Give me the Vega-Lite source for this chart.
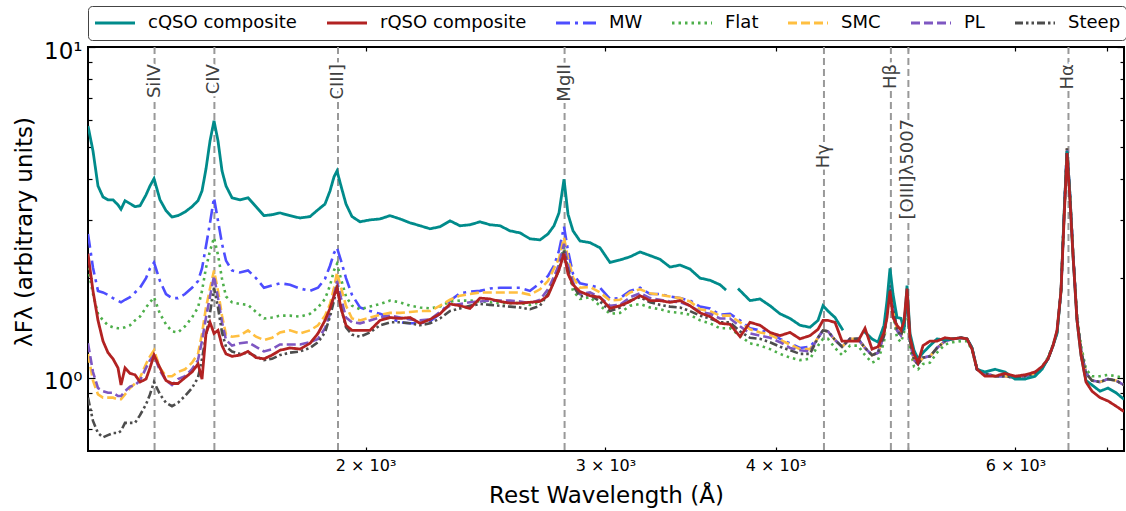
{
"$schema":"https://vega.github.io/schema/vega-lite/v6.json",
"width":1036,"height":404,
"autosize":{"type":"none"},
"padding":{"left":88,"top":47,"right":2,"bottom":60},
"config":{
 "font":"DejaVu Sans",
 "view":{"stroke":"black","strokeWidth":2},
 "axis":{"grid":false,"domain":false,"tickColor":"black","tickWidth":1.2,"labelFont":"DejaVu Sans","titleFont":"DejaVu Sans","labelColor":"black","titleColor":"black","titleFontWeight":"normal","labelFlush":false,"labelOverlap":false,"labelBound":false},
 "legend":{"symbolType":"stroke","symbolSize":1600,"symbolStrokeWidth":3,"labelFontSize":18,"labelFont":"DejaVu Sans","labelColor":"black","labelOffset":11.5,"columnPadding":28,"rowPadding":0,"padding":5.5,"clipHeight":23,"fillColor":"white","strokeColor":"#444444","cornerRadius":4,"labelLimit":0}
},
"datasets":{
"lines":[{"lab":"SiIV","w":1400,"ty":8.88},{"lab":"CIV","w":1549,"ty":8.88},{"lab":"CIII]","w":1909,"ty":8.88},{"lab":"MgII","w":2800,"ty":8.88},{"lab":"Hγ","w":4341,"ty":5.09},{"lab":"Hβ","w":4861,"ty":8.88},{"lab":"[OIII]λ5007","w":5007,"ty":6.06},{"lab":"Hα","w":6563,"ty":8.88}],
"comp":[
{"s":"cQSO composite","g":"1","w":1251.0,"f":5.77},{"s":"cQSO composite","g":"1","w":1261.6,"f":4.85},{"s":"cQSO composite","g":"1","w":1272.3,"f":3.80},{"s":"cQSO composite","g":"1","w":1283.1,"f":3.52},{"s":"cQSO composite","g":"1","w":1294.0,"f":3.45},{"s":"cQSO composite","g":"1","w":1305.0,"f":3.45},{"s":"cQSO composite","g":"1","w":1316.1,"f":3.33},{"s":"cQSO composite","g":"1","w":1322.8,"f":3.23},{"s":"cQSO composite","g":"1","w":1331.8,"f":3.43},{"s":"cQSO composite","g":"1","w":1343.1,"f":3.36},{"s":"cQSO composite","g":"1","w":1354.5,"f":3.29},{"s":"cQSO composite","g":"1","w":1366.0,"f":3.31},{"s":"cQSO composite","g":"1","w":1379.9,"f":3.57},{"s":"cQSO composite","g":"1","w":1389.2,"f":3.80},{"s":"cQSO composite","g":"1","w":1398.7,"f":4.00},{"s":"cQSO composite","g":"1","w":1412.9,"f":3.45},{"s":"cQSO composite","g":"1","w":1427.3,"f":3.20},{"s":"cQSO composite","g":"1","w":1441.9,"f":3.06},{"s":"cQSO composite","g":"1","w":1456.6,"f":3.09},{"s":"cQSO composite","g":"1","w":1473.9,"f":3.17},{"s":"cQSO composite","g":"1","w":1491.5,"f":3.29},{"s":"cQSO composite","g":"1","w":1506.7,"f":3.43},{"s":"cQSO composite","g":"1","w":1516.9,"f":3.67},{"s":"cQSO composite","g":"1","w":1527.2,"f":4.28},{"s":"cQSO composite","g":"1","w":1537.6,"f":5.20},{"s":"cQSO composite","g":"1","w":1548.0,"f":5.98},{"s":"cQSO composite","g":"1","w":1558.5,"f":5.20},{"s":"cQSO composite","g":"1","w":1569.1,"f":4.22},{"s":"cQSO composite","g":"1","w":1579.7,"f":3.80},{"s":"cQSO composite","g":"1","w":1595.8,"f":3.50},{"s":"cQSO composite","g":"1","w":1617.5,"f":3.45},{"s":"cQSO composite","g":"1","w":1639.6,"f":3.50},{"s":"cQSO composite","g":"1","w":1661.9,"f":3.29},{"s":"cQSO composite","g":"1","w":1684.5,"f":3.09},{"s":"cQSO composite","g":"1","w":1707.5,"f":3.11},{"s":"cQSO composite","g":"1","w":1730.7,"f":3.15},{"s":"cQSO composite","g":"1","w":1760.2,"f":3.09},{"s":"cQSO composite","g":"1","w":1790.2,"f":3.04},{"s":"cQSO composite","g":"1","w":1820.8,"f":3.07},{"s":"cQSO composite","g":"1","w":1845.5,"f":3.22},{"s":"cQSO composite","g":"1","w":1867.5,"f":3.35},{"s":"cQSO composite","g":"1","w":1883.4,"f":3.67},{"s":"cQSO composite","g":"1","w":1896.2,"f":4.05},{"s":"cQSO composite","g":"1","w":1905.8,"f":4.22},{"s":"cQSO composite","g":"1","w":1918.7,"f":3.80},{"s":"cQSO composite","g":"1","w":1935.0,"f":3.35},{"s":"cQSO composite","g":"1","w":1954.7,"f":3.07},{"s":"cQSO composite","g":"1","w":1981.4,"f":2.96},{"s":"cQSO composite","g":"1","w":2015.1,"f":3.00},{"s":"cQSO composite","g":"1","w":2049.5,"f":3.02},{"s":"cQSO composite","g":"1","w":2084.4,"f":3.09},{"s":"cQSO composite","g":"1","w":2120.0,"f":3.02},{"s":"cQSO composite","g":"1","w":2156.1,"f":2.94},{"s":"cQSO composite","g":"1","w":2192.9,"f":2.88},{"s":"cQSO composite","g":"1","w":2230.3,"f":2.82},{"s":"cQSO composite","g":"1","w":2268.3,"f":2.86},{"s":"cQSO composite","g":"1","w":2307.0,"f":2.98},{"s":"cQSO composite","g":"1","w":2346.3,"f":2.88},{"s":"cQSO composite","g":"1","w":2386.3,"f":2.90},{"s":"cQSO composite","g":"1","w":2427.0,"f":2.96},{"s":"cQSO composite","g":"1","w":2468.4,"f":2.90},{"s":"cQSO composite","g":"1","w":2510.4,"f":2.88},{"s":"cQSO composite","g":"1","w":2553.2,"f":2.78},{"s":"cQSO composite","g":"1","w":2596.8,"f":2.74},{"s":"cQSO composite","g":"1","w":2641.0,"f":2.63},{"s":"cQSO composite","g":"1","w":2686.1,"f":2.61},{"s":"cQSO composite","g":"1","w":2722.6,"f":2.72},{"s":"cQSO composite","g":"1","w":2750.4,"f":2.88},{"s":"cQSO composite","g":"1","w":2773.7,"f":3.15},{"s":"cQSO composite","g":"1","w":2797.3,"f":3.98},{"s":"cQSO composite","g":"1","w":2816.3,"f":3.12},{"s":"cQSO composite","g":"1","w":2840.2,"f":2.78},{"s":"cQSO composite","g":"1","w":2874.0,"f":2.59},{"s":"cQSO composite","g":"1","w":2923.0,"f":2.56},{"s":"cQSO composite","g":"1","w":2972.8,"f":2.47},{"s":"cQSO composite","g":"1","w":3023.5,"f":2.23},{"s":"cQSO composite","g":"1","w":3075.1,"f":2.27},{"s":"cQSO composite","g":"1","w":3127.5,"f":2.32},{"s":"cQSO composite","g":"1","w":3180.8,"f":2.40},{"s":"cQSO composite","g":"1","w":3235.0,"f":2.34},{"s":"cQSO composite","g":"1","w":3290.2,"f":2.28},{"s":"cQSO composite","g":"1","w":3346.3,"f":2.16},{"s":"cQSO composite","g":"1","w":3403.3,"f":2.19},{"s":"cQSO composite","g":"1","w":3461.4,"f":2.13},{"s":"cQSO composite","g":"1","w":3520.4,"f":2.00},{"s":"cQSO composite","g":"1","w":3580.4,"f":1.97},{"s":"cQSO composite","g":"1","w":3641.4,"f":1.91},{"s":"cQSO composite","g":"1","w":3678.7,"f":1.84},
{"s":"cQSO composite","g":"2","w":3754.0,"f":1.86},{"s":"cQSO composite","g":"2","w":3830.9,"f":1.71},{"s":"cQSO composite","g":"2","w":3896.2,"f":1.73},{"s":"cQSO composite","g":"2","w":3962.6,"f":1.65},{"s":"cQSO composite","g":"2","w":4030.2,"f":1.56},{"s":"cQSO composite","g":"2","w":4098.9,"f":1.51},{"s":"cQSO composite","g":"2","w":4168.8,"f":1.44},{"s":"cQSO composite","g":"2","w":4239.8,"f":1.42},{"s":"cQSO composite","g":"2","w":4297.6,"f":1.49},{"s":"cQSO composite","g":"2","w":4334.0,"f":1.65},{"s":"cQSO composite","g":"2","w":4370.8,"f":1.59},{"s":"cQSO composite","g":"2","w":4422.9,"f":1.52},{"s":"cQSO composite","g":"2","w":4483.2,"f":1.39},
{"s":"cQSO composite","g":"3","w":4637.6,"f":1.39},{"s":"cQSO composite","g":"3","w":4708.4,"f":1.31},{"s":"cQSO composite","g":"3","w":4756.4,"f":1.28},{"s":"cQSO composite","g":"3","w":4804.9,"f":1.44},{"s":"cQSO composite","g":"3","w":4829.3,"f":1.71},{"s":"cQSO composite","g":"3","w":4853.8,"f":2.14},{"s":"cQSO composite","g":"3","w":4878.5,"f":1.79},{"s":"cQSO composite","g":"3","w":4911.6,"f":1.52},{"s":"cQSO composite","g":"3","w":4945.0,"f":1.51},{"s":"cQSO composite","g":"3","w":4970.1,"f":1.39},{"s":"cQSO composite","g":"3","w":4995.4,"f":1.90},{"s":"cQSO composite","g":"3","w":5020.8,"f":1.36},{"s":"cQSO composite","g":"3","w":5054.8,"f":1.21},{"s":"cQSO composite","g":"3","w":5089.1,"f":1.14},{"s":"cQSO composite","g":"3","w":5132.3,"f":1.19},{"s":"cQSO composite","g":"3","w":5193.4,"f":1.25},{"s":"cQSO composite","g":"3","w":5255.3,"f":1.31},{"s":"cQSO composite","g":"3","w":5326.8,"f":1.30},{"s":"cQSO composite","g":"3","w":5399.3,"f":1.31},{"s":"cQSO composite","g":"3","w":5472.9,"f":1.32},{"s":"cQSO composite","g":"3","w":5528.7,"f":1.31},{"s":"cQSO composite","g":"3","w":5575.6,"f":1.23},{"s":"cQSO composite","g":"3","w":5622.9,"f":1.06},{"s":"cQSO composite","g":"3","w":5699.5,"f":1.04},{"s":"cQSO composite","g":"3","w":5796.7,"f":1.06},{"s":"cQSO composite","g":"3","w":5895.5,"f":1.04},{"s":"cQSO composite","g":"3","w":5996.0,"f":0.99},{"s":"cQSO composite","g":"3","w":6098.2,"f":0.99},{"s":"cQSO composite","g":"3","w":6202.2,"f":1.01},{"s":"cQSO composite","g":"3","w":6276.0,"f":1.06},{"s":"cQSO composite","g":"3","w":6340.0,"f":1.14},{"s":"cQSO composite","g":"3","w":6393.8,"f":1.25},{"s":"cQSO composite","g":"3","w":6437.2,"f":1.36},{"s":"cQSO composite","g":"3","w":6480.9,"f":1.83},{"s":"cQSO composite","g":"3","w":6513.8,"f":3.09},{"s":"cQSO composite","g":"3","w":6546.9,"f":4.85},{"s":"cQSO composite","g":"3","w":6580.3,"f":3.55},{"s":"cQSO composite","g":"3","w":6613.7,"f":2.34},{"s":"cQSO composite","g":"3","w":6658.6,"f":1.49},{"s":"cQSO composite","g":"3","w":6703.8,"f":1.17},{"s":"cQSO composite","g":"3","w":6760.7,"f":0.98},{"s":"cQSO composite","g":"3","w":6829.6,"f":0.95},{"s":"cQSO composite","g":"3","w":6922.6,"f":0.91},{"s":"cQSO composite","g":"3","w":7016.9,"f":0.93},{"s":"cQSO composite","g":"3","w":7112.4,"f":0.90},{"s":"cQSO composite","g":"3","w":7209.3,"f":0.86},
{"s":"rQSO composite","g":"1","w":1251.0,"f":2.37},{"s":"rQSO composite","g":"1","w":1261.6,"f":1.83},{"s":"rQSO composite","g":"1","w":1272.3,"f":1.49},{"s":"rQSO composite","g":"1","w":1283.1,"f":1.29},{"s":"rQSO composite","g":"1","w":1294.0,"f":1.19},{"s":"rQSO composite","g":"1","w":1305.0,"f":1.14},{"s":"rQSO composite","g":"1","w":1316.1,"f":1.07},{"s":"rQSO composite","g":"1","w":1322.8,"f":0.95},{"s":"rQSO composite","g":"1","w":1331.8,"f":1.07},{"s":"rQSO composite","g":"1","w":1343.1,"f":1.03},{"s":"rQSO composite","g":"1","w":1354.5,"f":1.02},{"s":"rQSO composite","g":"1","w":1366.0,"f":0.97},{"s":"rQSO composite","g":"1","w":1379.9,"f":0.99},{"s":"rQSO composite","g":"1","w":1389.2,"f":1.07},{"s":"rQSO composite","g":"1","w":1398.7,"f":1.17},{"s":"rQSO composite","g":"1","w":1412.9,"f":1.07},{"s":"rQSO composite","g":"1","w":1427.3,"f":0.98},{"s":"rQSO composite","g":"1","w":1441.9,"f":0.96},{"s":"rQSO composite","g":"1","w":1456.6,"f":0.96},{"s":"rQSO composite","g":"1","w":1473.9,"f":1.00},{"s":"rQSO composite","g":"1","w":1491.5,"f":1.04},{"s":"rQSO composite","g":"1","w":1506.7,"f":1.10},{"s":"rQSO composite","g":"1","w":1516.9,"f":0.99},{"s":"rQSO composite","g":"1","w":1527.2,"f":1.36},{"s":"rQSO composite","g":"1","w":1537.6,"f":1.47},{"s":"rQSO composite","g":"1","w":1548.0,"f":1.36},{"s":"rQSO composite","g":"1","w":1558.5,"f":1.39},{"s":"rQSO composite","g":"1","w":1569.1,"f":1.25},{"s":"rQSO composite","g":"1","w":1579.7,"f":1.18},{"s":"rQSO composite","g":"1","w":1595.8,"f":1.16},{"s":"rQSO composite","g":"1","w":1617.5,"f":1.17},{"s":"rQSO composite","g":"1","w":1639.6,"f":1.20},{"s":"rQSO composite","g":"1","w":1661.9,"f":1.15},{"s":"rQSO composite","g":"1","w":1684.5,"f":1.14},{"s":"rQSO composite","g":"1","w":1707.5,"f":1.17},{"s":"rQSO composite","g":"1","w":1730.7,"f":1.21},{"s":"rQSO composite","g":"1","w":1760.2,"f":1.23},{"s":"rQSO composite","g":"1","w":1790.2,"f":1.22},{"s":"rQSO composite","g":"1","w":1820.8,"f":1.27},{"s":"rQSO composite","g":"1","w":1845.5,"f":1.36},{"s":"rQSO composite","g":"1","w":1867.5,"f":1.49},{"s":"rQSO composite","g":"1","w":1883.4,"f":1.62},{"s":"rQSO composite","g":"1","w":1896.2,"f":1.77},{"s":"rQSO composite","g":"1","w":1905.8,"f":1.87},{"s":"rQSO composite","g":"1","w":1918.7,"f":1.62},{"s":"rQSO composite","g":"1","w":1935.0,"f":1.44},{"s":"rQSO composite","g":"1","w":1954.7,"f":1.39},{"s":"rQSO composite","g":"1","w":1981.4,"f":1.39},{"s":"rQSO composite","g":"1","w":2015.1,"f":1.39},{"s":"rQSO composite","g":"1","w":2049.5,"f":1.49},{"s":"rQSO composite","g":"1","w":2084.4,"f":1.52},{"s":"rQSO composite","g":"1","w":2120.0,"f":1.51},{"s":"rQSO composite","g":"1","w":2156.1,"f":1.52},{"s":"rQSO composite","g":"1","w":2192.9,"f":1.46},{"s":"rQSO composite","g":"1","w":2230.3,"f":1.50},{"s":"rQSO composite","g":"1","w":2268.3,"f":1.56},{"s":"rQSO composite","g":"1","w":2307.0,"f":1.67},{"s":"rQSO composite","g":"1","w":2346.3,"f":1.65},{"s":"rQSO composite","g":"1","w":2386.3,"f":1.62},{"s":"rQSO composite","g":"1","w":2427.0,"f":1.74},{"s":"rQSO composite","g":"1","w":2468.4,"f":1.73},{"s":"rQSO composite","g":"1","w":2510.4,"f":1.70},{"s":"rQSO composite","g":"1","w":2553.2,"f":1.68},{"s":"rQSO composite","g":"1","w":2596.8,"f":1.68},{"s":"rQSO composite","g":"1","w":2641.0,"f":1.69},{"s":"rQSO composite","g":"1","w":2686.1,"f":1.70},{"s":"rQSO composite","g":"1","w":2722.6,"f":1.77},{"s":"rQSO composite","g":"1","w":2750.4,"f":1.95},{"s":"rQSO composite","g":"1","w":2773.7,"f":2.12},{"s":"rQSO composite","g":"1","w":2797.3,"f":2.37},{"s":"rQSO composite","g":"1","w":2816.3,"f":2.06},{"s":"rQSO composite","g":"1","w":2840.2,"f":1.91},{"s":"rQSO composite","g":"1","w":2874.0,"f":1.82},{"s":"rQSO composite","g":"1","w":2923.0,"f":1.77},{"s":"rQSO composite","g":"1","w":2972.8,"f":1.75},{"s":"rQSO composite","g":"1","w":3023.5,"f":1.62},{"s":"rQSO composite","g":"1","w":3075.1,"f":1.65},{"s":"rQSO composite","g":"1","w":3127.5,"f":1.70},{"s":"rQSO composite","g":"1","w":3180.8,"f":1.77},{"s":"rQSO composite","g":"1","w":3235.0,"f":1.71},{"s":"rQSO composite","g":"1","w":3290.2,"f":1.71},{"s":"rQSO composite","g":"1","w":3346.3,"f":1.69},{"s":"rQSO composite","g":"1","w":3403.3,"f":1.71},{"s":"rQSO composite","g":"1","w":3461.4,"f":1.65},{"s":"rQSO composite","g":"1","w":3520.4,"f":1.57},{"s":"rQSO composite","g":"1","w":3580.4,"f":1.53},{"s":"rQSO composite","g":"1","w":3641.4,"f":1.46},{"s":"rQSO composite","g":"1","w":3703.5,"f":1.45},{"s":"rQSO composite","g":"1","w":3766.7,"f":1.33},{"s":"rQSO composite","g":"1","w":3830.9,"f":1.47},{"s":"rQSO composite","g":"1","w":3896.2,"f":1.44},{"s":"rQSO composite","g":"1","w":3962.6,"f":1.37},{"s":"rQSO composite","g":"1","w":4030.2,"f":1.34},{"s":"rQSO composite","g":"1","w":4098.9,"f":1.37},{"s":"rQSO composite","g":"1","w":4168.8,"f":1.31},{"s":"rQSO composite","g":"1","w":4239.8,"f":1.34},{"s":"rQSO composite","g":"1","w":4297.6,"f":1.40},{"s":"rQSO composite","g":"1","w":4334.0,"f":1.49},{"s":"rQSO composite","g":"1","w":4370.8,"f":1.49},{"s":"rQSO composite","g":"1","w":4422.9,"f":1.47},{"s":"rQSO composite","g":"1","w":4475.5,"f":1.29},{"s":"rQSO composite","g":"1","w":4536.5,"f":1.29},{"s":"rQSO composite","g":"1","w":4598.2,"f":1.29},{"s":"rQSO composite","g":"1","w":4653.0,"f":1.41},{"s":"rQSO composite","g":"1","w":4708.4,"f":1.22},{"s":"rQSO composite","g":"1","w":4756.4,"f":1.24},{"s":"rQSO composite","g":"1","w":4804.9,"f":1.37},{"s":"rQSO composite","g":"1","w":4829.3,"f":1.52},{"s":"rQSO composite","g":"1","w":4853.8,"f":1.83},{"s":"rQSO composite","g":"1","w":4878.5,"f":1.52},{"s":"rQSO composite","g":"1","w":4911.6,"f":1.44},{"s":"rQSO composite","g":"1","w":4945.0,"f":1.39},{"s":"rQSO composite","g":"1","w":4970.1,"f":1.48},{"s":"rQSO composite","g":"1","w":4995.4,"f":1.86},{"s":"rQSO composite","g":"1","w":5020.8,"f":1.32},{"s":"rQSO composite","g":"1","w":5054.8,"f":1.18},{"s":"rQSO composite","g":"1","w":5089.1,"f":1.11},{"s":"rQSO composite","g":"1","w":5132.3,"f":1.25},{"s":"rQSO composite","g":"1","w":5193.4,"f":1.29},{"s":"rQSO composite","g":"1","w":5255.3,"f":1.29},{"s":"rQSO composite","g":"1","w":5326.8,"f":1.32},{"s":"rQSO composite","g":"1","w":5399.3,"f":1.31},{"s":"rQSO composite","g":"1","w":5472.9,"f":1.32},{"s":"rQSO composite","g":"1","w":5528.7,"f":1.31},{"s":"rQSO composite","g":"1","w":5575.6,"f":1.22},{"s":"rQSO composite","g":"1","w":5622.9,"f":1.06},{"s":"rQSO composite","g":"1","w":5699.5,"f":1.01},{"s":"rQSO composite","g":"1","w":5796.7,"f":1.01},{"s":"rQSO composite","g":"1","w":5895.5,"f":1.03},{"s":"rQSO composite","g":"1","w":5996.0,"f":1.01},{"s":"rQSO composite","g":"1","w":6098.2,"f":1.02},{"s":"rQSO composite","g":"1","w":6202.2,"f":1.04},{"s":"rQSO composite","g":"1","w":6276.0,"f":1.08},{"s":"rQSO composite","g":"1","w":6340.0,"f":1.14},{"s":"rQSO composite","g":"1","w":6393.8,"f":1.25},{"s":"rQSO composite","g":"1","w":6437.2,"f":1.39},{"s":"rQSO composite","g":"1","w":6480.9,"f":1.83},{"s":"rQSO composite","g":"1","w":6513.8,"f":2.98},{"s":"rQSO composite","g":"1","w":6546.9,"f":4.78},{"s":"rQSO composite","g":"1","w":6580.3,"f":3.43},{"s":"rQSO composite","g":"1","w":6613.7,"f":2.34},{"s":"rQSO composite","g":"1","w":6658.6,"f":1.49},{"s":"rQSO composite","g":"1","w":6703.8,"f":1.17},{"s":"rQSO composite","g":"1","w":6760.7,"f":0.97},{"s":"rQSO composite","g":"1","w":6829.6,"f":0.91},{"s":"rQSO composite","g":"1","w":6922.6,"f":0.87},{"s":"rQSO composite","g":"1","w":7016.9,"f":0.85},{"s":"rQSO composite","g":"1","w":7112.4,"f":0.82},{"s":"rQSO composite","g":"1","w":7209.3,"f":0.79}
],
"models":[
{"s":"MW","w":1251.0,"f":2.72},{"s":"MW","w":1261.6,"f":2.15},{"s":"MW","w":1272.3,"f":1.83},{"s":"MW","w":1283.1,"f":1.81},{"s":"MW","w":1294.0,"f":1.78},{"s":"MW","w":1305.0,"f":1.74},{"s":"MW","w":1316.1,"f":1.71},{"s":"MW","w":1322.8,"f":1.69},{"s":"MW","w":1331.8,"f":1.72},{"s":"MW","w":1343.1,"f":1.75},{"s":"MW","w":1354.5,"f":1.81},{"s":"MW","w":1366.0,"f":1.87},{"s":"MW","w":1379.9,"f":2.00},{"s":"MW","w":1389.2,"f":2.14},{"s":"MW","w":1398.7,"f":2.23},{"s":"MW","w":1412.9,"f":1.96},{"s":"MW","w":1427.3,"f":1.79},{"s":"MW","w":1441.9,"f":1.74},{"s":"MW","w":1456.6,"f":1.74},{"s":"MW","w":1473.9,"f":1.79},{"s":"MW","w":1491.5,"f":1.87},{"s":"MW","w":1506.7,"f":1.96},{"s":"MW","w":1516.9,"f":2.14},{"s":"MW","w":1527.2,"f":2.50},{"s":"MW","w":1537.6,"f":2.94},{"s":"MW","w":1548.0,"f":3.50},{"s":"MW","w":1558.5,"f":2.98},{"s":"MW","w":1569.1,"f":2.54},{"s":"MW","w":1579.7,"f":2.26},{"s":"MW","w":1595.8,"f":2.11},{"s":"MW","w":1617.5,"f":2.08},{"s":"MW","w":1639.6,"f":2.11},{"s":"MW","w":1661.9,"f":2.00},{"s":"MW","w":1684.5,"f":1.87},{"s":"MW","w":1707.5,"f":1.90},{"s":"MW","w":1730.7,"f":1.93},{"s":"MW","w":1760.2,"f":1.91},{"s":"MW","w":1790.2,"f":1.86},{"s":"MW","w":1820.8,"f":1.83},{"s":"MW","w":1845.5,"f":1.87},{"s":"MW","w":1867.5,"f":1.99},{"s":"MW","w":1883.4,"f":2.18},{"s":"MW","w":1896.2,"f":2.38},{"s":"MW","w":1905.8,"f":2.47},{"s":"MW","w":1918.7,"f":2.26},{"s":"MW","w":1935.0,"f":2.00},{"s":"MW","w":1954.7,"f":1.78},{"s":"MW","w":1981.4,"f":1.63},{"s":"MW","w":2015.1,"f":1.59},{"s":"MW","w":2049.5,"f":1.56},{"s":"MW","w":2084.4,"f":1.52},{"s":"MW","w":2120.0,"f":1.47},{"s":"MW","w":2156.1,"f":1.46},{"s":"MW","w":2192.9,"f":1.46},{"s":"MW","w":2230.3,"f":1.48},{"s":"MW","w":2268.3,"f":1.56},{"s":"MW","w":2307.0,"f":1.71},{"s":"MW","w":2346.3,"f":1.80},{"s":"MW","w":2386.3,"f":1.82},{"s":"MW","w":2427.0,"f":1.83},{"s":"MW","w":2468.4,"f":1.86},{"s":"MW","w":2510.4,"f":1.87},{"s":"MW","w":2553.2,"f":1.87},{"s":"MW","w":2596.8,"f":1.87},{"s":"MW","w":2641.0,"f":1.83},{"s":"MW","w":2686.1,"f":1.93},{"s":"MW","w":2722.6,"f":2.03},{"s":"MW","w":2750.4,"f":2.18},{"s":"MW","w":2773.7,"f":2.42},{"s":"MW","w":2797.3,"f":2.86},{"s":"MW","w":2816.3,"f":2.42},{"s":"MW","w":2840.2,"f":2.06},{"s":"MW","w":2874.0,"f":1.93},{"s":"MW","w":2923.0,"f":1.90},{"s":"MW","w":2972.8,"f":1.87},{"s":"MW","w":3023.5,"f":1.73},{"s":"MW","w":3075.1,"f":1.74},{"s":"MW","w":3127.5,"f":1.83},{"s":"MW","w":3180.8,"f":1.87},{"s":"MW","w":3235.0,"f":1.79},{"s":"MW","w":3290.2,"f":1.79},{"s":"MW","w":3346.3,"f":1.76},{"s":"MW","w":3403.3,"f":1.74},{"s":"MW","w":3461.4,"f":1.71},{"s":"MW","w":3520.4,"f":1.64},{"s":"MW","w":3580.4,"f":1.62},{"s":"MW","w":3641.4,"f":1.55},{"s":"MW","w":3703.5,"f":1.56},{"s":"MW","w":3766.7,"f":1.49},{"s":"MW","w":3830.9,"f":1.41},{"s":"MW","w":3896.2,"f":1.39},{"s":"MW","w":3962.6,"f":1.37},{"s":"MW","w":4030.2,"f":1.31},{"s":"MW","w":4098.9,"f":1.27},{"s":"MW","w":4168.8,"f":1.23},{"s":"MW","w":4239.8,"f":1.24},
{"s":"MW","w":4297.6,"f":1.32},{"s":"MW","w":4334.0,"f":1.39},{"s":"MW","w":4370.8,"f":1.38},{"s":"MW","w":4422.9,"f":1.30},{"s":"MW","w":4475.5,"f":1.24},{"s":"MW","w":4536.5,"f":1.31},{"s":"MW","w":4598.2,"f":1.31},{"s":"MW","w":4653.0,"f":1.23},{"s":"MW","w":4708.4,"f":1.17},{"s":"MW","w":4756.4,"f":1.19},{"s":"MW","w":4804.9,"f":1.34},{"s":"MW","w":4829.3,"f":1.65},{"s":"MW","w":4853.8,"f":1.90},{"s":"MW","w":4878.5,"f":1.65},{"s":"MW","w":4911.6,"f":1.39},{"s":"MW","w":4945.0,"f":1.34},{"s":"MW","w":4970.1,"f":1.44},{"s":"MW","w":4995.4,"f":1.79},{"s":"MW","w":5020.8,"f":1.29},{"s":"MW","w":5054.8,"f":1.13},{"s":"MW","w":5089.1,"f":1.10},{"s":"MW","w":5132.3,"f":1.15},{"s":"MW","w":5193.4,"f":1.16},{"s":"MW","w":5255.3,"f":1.23},{"s":"MW","w":5326.8,"f":1.29},{"s":"MW","w":5399.3,"f":1.31},{"s":"MW","w":5472.9,"f":1.32},{"s":"MW","w":5528.7,"f":1.31},{"s":"MW","w":5575.6,"f":1.23},{"s":"MW","w":5622.9,"f":1.06},{"s":"MW","w":5699.5,"f":1.03},{"s":"MW","w":5796.7,"f":1.01},{"s":"MW","w":5895.5,"f":1.01},{"s":"MW","w":5996.0,"f":1.00},{"s":"MW","w":6098.2,"f":1.01},{"s":"MW","w":6202.2,"f":1.03},{"s":"MW","w":6276.0,"f":1.07},{"s":"MW","w":6340.0,"f":1.14},{"s":"MW","w":6393.8,"f":1.25},{"s":"MW","w":6437.2,"f":1.37},{"s":"MW","w":6480.9,"f":1.83},{"s":"MW","w":6513.8,"f":3.09},{"s":"MW","w":6546.9,"f":4.94},{"s":"MW","w":6580.3,"f":3.55},{"s":"MW","w":6613.7,"f":2.39},{"s":"MW","w":6658.6,"f":1.51},{"s":"MW","w":6703.8,"f":1.21},{"s":"MW","w":6760.7,"f":1.03},{"s":"MW","w":6829.6,"f":0.98},{"s":"MW","w":6922.6,"f":0.97},{"s":"MW","w":7016.9,"f":0.99},{"s":"MW","w":7112.4,"f":0.98},{"s":"MW","w":7209.3,"f":0.95},
{"s":"Flat","w":1251.0,"f":2.15},{"s":"Flat","w":1261.6,"f":1.79},{"s":"Flat","w":1272.3,"f":1.56},{"s":"Flat","w":1283.1,"f":1.49},{"s":"Flat","w":1294.0,"f":1.44},{"s":"Flat","w":1305.0,"f":1.42},{"s":"Flat","w":1316.1,"f":1.41},{"s":"Flat","w":1322.8,"f":1.41},{"s":"Flat","w":1331.8,"f":1.42},{"s":"Flat","w":1343.1,"f":1.44},{"s":"Flat","w":1354.5,"f":1.49},{"s":"Flat","w":1366.0,"f":1.53},{"s":"Flat","w":1379.9,"f":1.63},{"s":"Flat","w":1389.2,"f":1.69},{"s":"Flat","w":1398.7,"f":1.75},{"s":"Flat","w":1412.9,"f":1.56},{"s":"Flat","w":1427.3,"f":1.45},{"s":"Flat","w":1441.9,"f":1.38},{"s":"Flat","w":1456.6,"f":1.37},{"s":"Flat","w":1473.9,"f":1.43},{"s":"Flat","w":1491.5,"f":1.52},{"s":"Flat","w":1506.7,"f":1.63},{"s":"Flat","w":1516.9,"f":1.83},{"s":"Flat","w":1527.2,"f":2.15},{"s":"Flat","w":1537.6,"f":2.42},{"s":"Flat","w":1548.0,"f":2.65},{"s":"Flat","w":1558.5,"f":2.35},{"s":"Flat","w":1569.1,"f":1.99},{"s":"Flat","w":1579.7,"f":1.76},{"s":"Flat","w":1595.8,"f":1.69},{"s":"Flat","w":1617.5,"f":1.67},{"s":"Flat","w":1639.6,"f":1.66},{"s":"Flat","w":1661.9,"f":1.58},{"s":"Flat","w":1684.5,"f":1.51},{"s":"Flat","w":1707.5,"f":1.52},{"s":"Flat","w":1730.7,"f":1.54},{"s":"Flat","w":1760.2,"f":1.54},{"s":"Flat","w":1790.2,"f":1.53},{"s":"Flat","w":1820.8,"f":1.56},{"s":"Flat","w":1845.5,"f":1.63},{"s":"Flat","w":1867.5,"f":1.73},{"s":"Flat","w":1883.4,"f":1.90},{"s":"Flat","w":1896.2,"f":2.11},{"s":"Flat","w":1905.8,"f":2.21},{"s":"Flat","w":1918.7,"f":1.99},{"s":"Flat","w":1935.0,"f":1.76},{"s":"Flat","w":1954.7,"f":1.65},{"s":"Flat","w":1981.4,"f":1.61},{"s":"Flat","w":2015.1,"f":1.64},{"s":"Flat","w":2049.5,"f":1.67},{"s":"Flat","w":2084.4,"f":1.71},{"s":"Flat","w":2120.0,"f":1.69},{"s":"Flat","w":2156.1,"f":1.65},{"s":"Flat","w":2192.9,"f":1.63},{"s":"Flat","w":2230.3,"f":1.62},{"s":"Flat","w":2268.3,"f":1.64},{"s":"Flat","w":2307.0,"f":1.70},{"s":"Flat","w":2346.3,"f":1.71},{"s":"Flat","w":2386.3,"f":1.71},{"s":"Flat","w":2427.0,"f":1.70},{"s":"Flat","w":2468.4,"f":1.69},{"s":"Flat","w":2510.4,"f":1.68},{"s":"Flat","w":2553.2,"f":1.68},{"s":"Flat","w":2596.8,"f":1.68},{"s":"Flat","w":2641.0,"f":1.66},{"s":"Flat","w":2686.1,"f":1.69},{"s":"Flat","w":2722.6,"f":1.78},{"s":"Flat","w":2750.4,"f":1.96},{"s":"Flat","w":2773.7,"f":2.18},{"s":"Flat","w":2797.3,"f":2.50},{"s":"Flat","w":2816.3,"f":2.14},{"s":"Flat","w":2840.2,"f":1.83},{"s":"Flat","w":2874.0,"f":1.73},{"s":"Flat","w":2923.0,"f":1.75},{"s":"Flat","w":2972.8,"f":1.65},{"s":"Flat","w":3023.5,"f":1.56},{"s":"Flat","w":3075.1,"f":1.57},{"s":"Flat","w":3127.5,"f":1.65},{"s":"Flat","w":3180.8,"f":1.67},{"s":"Flat","w":3235.0,"f":1.63},{"s":"Flat","w":3290.2,"f":1.61},{"s":"Flat","w":3346.3,"f":1.58},{"s":"Flat","w":3403.3,"f":1.57},{"s":"Flat","w":3461.4,"f":1.55},{"s":"Flat","w":3520.4,"f":1.49},{"s":"Flat","w":3580.4,"f":1.46},{"s":"Flat","w":3641.4,"f":1.41},{"s":"Flat","w":3703.5,"f":1.41},{"s":"Flat","w":3766.7,"f":1.34},{"s":"Flat","w":3830.9,"f":1.27},{"s":"Flat","w":3896.2,"f":1.25},{"s":"Flat","w":3962.6,"f":1.22},{"s":"Flat","w":4030.2,"f":1.18},{"s":"Flat","w":4098.9,"f":1.15},{"s":"Flat","w":4168.8,"f":1.13},{"s":"Flat","w":4239.8,"f":1.14},
{"s":"Flat","w":4297.6,"f":1.25},{"s":"Flat","w":4334.0,"f":1.31},{"s":"Flat","w":4370.8,"f":1.31},{"s":"Flat","w":4422.9,"f":1.23},{"s":"Flat","w":4475.5,"f":1.17},{"s":"Flat","w":4536.5,"f":1.25},{"s":"Flat","w":4598.2,"f":1.25},{"s":"Flat","w":4653.0,"f":1.17},{"s":"Flat","w":4708.4,"f":1.11},{"s":"Flat","w":4756.4,"f":1.13},{"s":"Flat","w":4804.9,"f":1.28},{"s":"Flat","w":4829.3,"f":1.57},{"s":"Flat","w":4853.8,"f":1.81},{"s":"Flat","w":4878.5,"f":1.57},{"s":"Flat","w":4911.6,"f":1.32},{"s":"Flat","w":4945.0,"f":1.28},{"s":"Flat","w":4970.1,"f":1.37},{"s":"Flat","w":4995.4,"f":1.71},{"s":"Flat","w":5020.8,"f":1.23},{"s":"Flat","w":5054.8,"f":1.08},{"s":"Flat","w":5089.1,"f":1.06},{"s":"Flat","w":5132.3,"f":1.10},{"s":"Flat","w":5193.4,"f":1.11},{"s":"Flat","w":5255.3,"f":1.19},{"s":"Flat","w":5326.8,"f":1.26},{"s":"Flat","w":5399.3,"f":1.28},{"s":"Flat","w":5472.9,"f":1.29},{"s":"Flat","w":5528.7,"f":1.29},{"s":"Flat","w":5575.6,"f":1.21},{"s":"Flat","w":5622.9,"f":1.06},{"s":"Flat","w":5699.5,"f":1.02},{"s":"Flat","w":5796.7,"f":1.01},{"s":"Flat","w":5895.5,"f":1.01},{"s":"Flat","w":5996.0,"f":1.00},{"s":"Flat","w":6098.2,"f":1.01},{"s":"Flat","w":6202.2,"f":1.03},{"s":"Flat","w":6276.0,"f":1.08},{"s":"Flat","w":6340.0,"f":1.15},{"s":"Flat","w":6393.8,"f":1.26},{"s":"Flat","w":6437.2,"f":1.38},{"s":"Flat","w":6480.9,"f":1.83},{"s":"Flat","w":6513.8,"f":3.03},{"s":"Flat","w":6546.9,"f":4.78},{"s":"Flat","w":6580.3,"f":3.48},{"s":"Flat","w":6613.7,"f":2.37},{"s":"Flat","w":6658.6,"f":1.54},{"s":"Flat","w":6703.8,"f":1.25},{"s":"Flat","w":6760.7,"f":1.06},{"s":"Flat","w":6829.6,"f":1.01},{"s":"Flat","w":6922.6,"f":1.01},{"s":"Flat","w":7016.9,"f":1.02},{"s":"Flat","w":7112.4,"f":1.01},{"s":"Flat","w":7209.3,"f":1.00},
{"s":"SMC","w":1251.0,"f":1.18},{"s":"SMC","w":1261.6,"f":0.98},{"s":"SMC","w":1272.3,"f":0.89},{"s":"SMC","w":1283.1,"f":0.87},{"s":"SMC","w":1294.0,"f":0.87},{"s":"SMC","w":1305.0,"f":0.87},{"s":"SMC","w":1316.1,"f":0.86},{"s":"SMC","w":1322.8,"f":0.86},{"s":"SMC","w":1331.8,"f":0.89},{"s":"SMC","w":1343.1,"f":0.93},{"s":"SMC","w":1354.5,"f":0.96},{"s":"SMC","w":1366.0,"f":1.00},{"s":"SMC","w":1379.9,"f":1.10},{"s":"SMC","w":1389.2,"f":1.16},{"s":"SMC","w":1398.7,"f":1.21},{"s":"SMC","w":1412.9,"f":1.07},{"s":"SMC","w":1427.3,"f":1.01},{"s":"SMC","w":1441.9,"f":1.01},{"s":"SMC","w":1456.6,"f":1.04},{"s":"SMC","w":1473.9,"f":1.06},{"s":"SMC","w":1491.5,"f":1.11},{"s":"SMC","w":1506.7,"f":1.18},{"s":"SMC","w":1516.9,"f":1.36},{"s":"SMC","w":1527.2,"f":1.63},{"s":"SMC","w":1537.6,"f":1.86},{"s":"SMC","w":1548.0,"f":2.11},{"s":"SMC","w":1558.5,"f":1.83},{"s":"SMC","w":1569.1,"f":1.54},{"s":"SMC","w":1579.7,"f":1.35},{"s":"SMC","w":1595.8,"f":1.33},{"s":"SMC","w":1617.5,"f":1.34},{"s":"SMC","w":1639.6,"f":1.39},{"s":"SMC","w":1661.9,"f":1.33},{"s":"SMC","w":1684.5,"f":1.30},{"s":"SMC","w":1707.5,"f":1.32},{"s":"SMC","w":1730.7,"f":1.37},{"s":"SMC","w":1760.2,"f":1.39},{"s":"SMC","w":1790.2,"f":1.36},{"s":"SMC","w":1820.8,"f":1.39},{"s":"SMC","w":1845.5,"f":1.44},{"s":"SMC","w":1867.5,"f":1.54},{"s":"SMC","w":1883.4,"f":1.67},{"s":"SMC","w":1896.2,"f":1.87},{"s":"SMC","w":1905.8,"f":2.08},{"s":"SMC","w":1918.7,"f":1.87},{"s":"SMC","w":1935.0,"f":1.65},{"s":"SMC","w":1954.7,"f":1.51},{"s":"SMC","w":1981.4,"f":1.49},{"s":"SMC","w":2015.1,"f":1.52},{"s":"SMC","w":2049.5,"f":1.55},{"s":"SMC","w":2084.4,"f":1.57},{"s":"SMC","w":2120.0,"f":1.57},{"s":"SMC","w":2156.1,"f":1.58},{"s":"SMC","w":2192.9,"f":1.59},{"s":"SMC","w":2230.3,"f":1.59},{"s":"SMC","w":2268.3,"f":1.65},{"s":"SMC","w":2307.0,"f":1.72},{"s":"SMC","w":2346.3,"f":1.77},{"s":"SMC","w":2386.3,"f":1.79},{"s":"SMC","w":2427.0,"f":1.81},{"s":"SMC","w":2468.4,"f":1.81},{"s":"SMC","w":2510.4,"f":1.81},{"s":"SMC","w":2553.2,"f":1.81},{"s":"SMC","w":2596.8,"f":1.81},{"s":"SMC","w":2641.0,"f":1.78},{"s":"SMC","w":2686.1,"f":1.85},{"s":"SMC","w":2722.6,"f":1.96},{"s":"SMC","w":2750.4,"f":2.14},{"s":"SMC","w":2773.7,"f":2.29},{"s":"SMC","w":2797.3,"f":2.65},{"s":"SMC","w":2816.3,"f":2.30},{"s":"SMC","w":2840.2,"f":2.01},{"s":"SMC","w":2874.0,"f":1.87},{"s":"SMC","w":2923.0,"f":1.88},{"s":"SMC","w":2972.8,"f":1.81},{"s":"SMC","w":3023.5,"f":1.71},{"s":"SMC","w":3075.1,"f":1.72},{"s":"SMC","w":3127.5,"f":1.81},{"s":"SMC","w":3180.8,"f":1.85},{"s":"SMC","w":3235.0,"f":1.80},{"s":"SMC","w":3290.2,"f":1.78},{"s":"SMC","w":3346.3,"f":1.76},{"s":"SMC","w":3403.3,"f":1.74},{"s":"SMC","w":3461.4,"f":1.70},{"s":"SMC","w":3520.4,"f":1.61},{"s":"SMC","w":3580.4,"f":1.59},{"s":"SMC","w":3641.4,"f":1.54},{"s":"SMC","w":3703.5,"f":1.54},{"s":"SMC","w":3766.7,"f":1.47},{"s":"SMC","w":3830.9,"f":1.40},{"s":"SMC","w":3896.2,"f":1.37},{"s":"SMC","w":3962.6,"f":1.35},{"s":"SMC","w":4030.2,"f":1.30},{"s":"SMC","w":4098.9,"f":1.26},{"s":"SMC","w":4168.8,"f":1.22},{"s":"SMC","w":4239.8,"f":1.22},
{"s":"SMC","w":4297.6,"f":1.32},{"s":"SMC","w":4334.0,"f":1.39},{"s":"SMC","w":4370.8,"f":1.38},{"s":"SMC","w":4422.9,"f":1.30},{"s":"SMC","w":4475.5,"f":1.24},{"s":"SMC","w":4536.5,"f":1.31},{"s":"SMC","w":4598.2,"f":1.31},{"s":"SMC","w":4653.0,"f":1.23},{"s":"SMC","w":4708.4,"f":1.17},{"s":"SMC","w":4756.4,"f":1.19},{"s":"SMC","w":4804.9,"f":1.34},{"s":"SMC","w":4829.3,"f":1.65},{"s":"SMC","w":4853.8,"f":1.90},{"s":"SMC","w":4878.5,"f":1.65},{"s":"SMC","w":4911.6,"f":1.39},{"s":"SMC","w":4945.0,"f":1.34},{"s":"SMC","w":4970.1,"f":1.44},{"s":"SMC","w":4995.4,"f":1.79},{"s":"SMC","w":5020.8,"f":1.29},{"s":"SMC","w":5054.8,"f":1.13},{"s":"SMC","w":5089.1,"f":1.10},{"s":"SMC","w":5132.3,"f":1.15},{"s":"SMC","w":5193.4,"f":1.16},{"s":"SMC","w":5255.3,"f":1.23},{"s":"SMC","w":5326.8,"f":1.29},{"s":"SMC","w":5399.3,"f":1.31},{"s":"SMC","w":5472.9,"f":1.32},{"s":"SMC","w":5528.7,"f":1.31},{"s":"SMC","w":5575.6,"f":1.23},{"s":"SMC","w":5622.9,"f":1.06},{"s":"SMC","w":5699.5,"f":1.03},{"s":"SMC","w":5796.7,"f":1.01},{"s":"SMC","w":5895.5,"f":1.01},{"s":"SMC","w":5996.0,"f":1.00},{"s":"SMC","w":6098.2,"f":1.01},{"s":"SMC","w":6202.2,"f":1.03},{"s":"SMC","w":6276.0,"f":1.07},{"s":"SMC","w":6340.0,"f":1.14},{"s":"SMC","w":6393.8,"f":1.25},{"s":"SMC","w":6437.2,"f":1.37},{"s":"SMC","w":6480.9,"f":1.83},{"s":"SMC","w":6513.8,"f":3.09},{"s":"SMC","w":6546.9,"f":4.94},{"s":"SMC","w":6580.3,"f":3.55},{"s":"SMC","w":6613.7,"f":2.39},{"s":"SMC","w":6658.6,"f":1.51},{"s":"SMC","w":6703.8,"f":1.21},{"s":"SMC","w":6760.7,"f":1.03},{"s":"SMC","w":6829.6,"f":0.98},{"s":"SMC","w":6922.6,"f":0.97},{"s":"SMC","w":7016.9,"f":0.99},{"s":"SMC","w":7112.4,"f":0.98},{"s":"SMC","w":7209.3,"f":0.95},
{"s":"PL","w":1251.0,"f":1.27},{"s":"PL","w":1261.6,"f":1.04},{"s":"PL","w":1272.3,"f":0.93},{"s":"PL","w":1283.1,"f":0.91},{"s":"PL","w":1294.0,"f":0.90},{"s":"PL","w":1305.0,"f":0.90},{"s":"PL","w":1316.1,"f":0.88},{"s":"PL","w":1322.8,"f":0.88},{"s":"PL","w":1331.8,"f":0.91},{"s":"PL","w":1343.1,"f":0.94},{"s":"PL","w":1354.5,"f":0.95},{"s":"PL","w":1366.0,"f":0.98},{"s":"PL","w":1379.9,"f":1.07},{"s":"PL","w":1389.2,"f":1.13},{"s":"PL","w":1398.7,"f":1.17},{"s":"PL","w":1412.9,"f":1.05},{"s":"PL","w":1427.3,"f":0.98},{"s":"PL","w":1441.9,"f":0.95},{"s":"PL","w":1456.6,"f":0.99},{"s":"PL","w":1473.9,"f":1.01},{"s":"PL","w":1491.5,"f":1.06},{"s":"PL","w":1506.7,"f":1.13},{"s":"PL","w":1516.9,"f":1.29},{"s":"PL","w":1527.2,"f":1.52},{"s":"PL","w":1537.6,"f":1.76},{"s":"PL","w":1548.0,"f":2.03},{"s":"PL","w":1558.5,"f":1.74},{"s":"PL","w":1569.1,"f":1.47},{"s":"PL","w":1579.7,"f":1.30},{"s":"PL","w":1595.8,"f":1.25},{"s":"PL","w":1617.5,"f":1.27},{"s":"PL","w":1639.6,"f":1.28},{"s":"PL","w":1661.9,"f":1.24},{"s":"PL","w":1684.5,"f":1.20},{"s":"PL","w":1707.5,"f":1.22},{"s":"PL","w":1730.7,"f":1.26},{"s":"PL","w":1760.2,"f":1.26},{"s":"PL","w":1790.2,"f":1.26},{"s":"PL","w":1820.8,"f":1.28},{"s":"PL","w":1845.5,"f":1.31},{"s":"PL","w":1867.5,"f":1.41},{"s":"PL","w":1883.4,"f":1.56},{"s":"PL","w":1896.2,"f":1.77},{"s":"PL","w":1905.8,"f":1.96},{"s":"PL","w":1918.7,"f":1.74},{"s":"PL","w":1935.0,"f":1.52},{"s":"PL","w":1954.7,"f":1.47},{"s":"PL","w":1981.4,"f":1.46},{"s":"PL","w":2015.1,"f":1.49},{"s":"PL","w":2049.5,"f":1.52},{"s":"PL","w":2084.4,"f":1.54},{"s":"PL","w":2120.0,"f":1.52},{"s":"PL","w":2156.1,"f":1.50},{"s":"PL","w":2192.9,"f":1.49},{"s":"PL","w":2230.3,"f":1.50},{"s":"PL","w":2268.3,"f":1.58},{"s":"PL","w":2307.0,"f":1.65},{"s":"PL","w":2346.3,"f":1.67},{"s":"PL","w":2386.3,"f":1.69},{"s":"PL","w":2427.0,"f":1.70},{"s":"PL","w":2468.4,"f":1.71},{"s":"PL","w":2510.4,"f":1.71},{"s":"PL","w":2553.2,"f":1.71},{"s":"PL","w":2596.8,"f":1.70},{"s":"PL","w":2641.0,"f":1.68},{"s":"PL","w":2686.1,"f":1.72},{"s":"PL","w":2722.6,"f":1.85},{"s":"PL","w":2750.4,"f":2.02},{"s":"PL","w":2773.7,"f":2.20},{"s":"PL","w":2797.3,"f":2.54},{"s":"PL","w":2816.3,"f":2.18},{"s":"PL","w":2840.2,"f":1.94},{"s":"PL","w":2874.0,"f":1.79},{"s":"PL","w":2923.0,"f":1.81},{"s":"PL","w":2972.8,"f":1.75},{"s":"PL","w":3023.5,"f":1.65},{"s":"PL","w":3075.1,"f":1.66},{"s":"PL","w":3127.5,"f":1.75},{"s":"PL","w":3180.8,"f":1.80},{"s":"PL","w":3235.0,"f":1.74},{"s":"PL","w":3290.2,"f":1.72},{"s":"PL","w":3346.3,"f":1.70},{"s":"PL","w":3403.3,"f":1.69},{"s":"PL","w":3461.4,"f":1.65},{"s":"PL","w":3520.4,"f":1.58},{"s":"PL","w":3580.4,"f":1.56},{"s":"PL","w":3641.4,"f":1.51},{"s":"PL","w":3703.5,"f":1.51},{"s":"PL","w":3766.7,"f":1.43},{"s":"PL","w":3830.9,"f":1.36},{"s":"PL","w":3896.2,"f":1.34},{"s":"PL","w":3962.6,"f":1.32},{"s":"PL","w":4030.2,"f":1.28},{"s":"PL","w":4098.9,"f":1.23},{"s":"PL","w":4168.8,"f":1.21},{"s":"PL","w":4239.8,"f":1.20},
{"s":"PL","w":4297.6,"f":1.32},{"s":"PL","w":4334.0,"f":1.39},{"s":"PL","w":4370.8,"f":1.38},{"s":"PL","w":4422.9,"f":1.30},{"s":"PL","w":4475.5,"f":1.24},{"s":"PL","w":4536.5,"f":1.31},{"s":"PL","w":4598.2,"f":1.31},{"s":"PL","w":4653.0,"f":1.23},{"s":"PL","w":4708.4,"f":1.17},{"s":"PL","w":4756.4,"f":1.19},{"s":"PL","w":4804.9,"f":1.34},{"s":"PL","w":4829.3,"f":1.65},{"s":"PL","w":4853.8,"f":1.90},{"s":"PL","w":4878.5,"f":1.65},{"s":"PL","w":4911.6,"f":1.39},{"s":"PL","w":4945.0,"f":1.34},{"s":"PL","w":4970.1,"f":1.44},{"s":"PL","w":4995.4,"f":1.79},{"s":"PL","w":5020.8,"f":1.29},{"s":"PL","w":5054.8,"f":1.13},{"s":"PL","w":5089.1,"f":1.10},{"s":"PL","w":5132.3,"f":1.15},{"s":"PL","w":5193.4,"f":1.16},{"s":"PL","w":5255.3,"f":1.23},{"s":"PL","w":5326.8,"f":1.29},{"s":"PL","w":5399.3,"f":1.31},{"s":"PL","w":5472.9,"f":1.32},{"s":"PL","w":5528.7,"f":1.31},{"s":"PL","w":5575.6,"f":1.23},{"s":"PL","w":5622.9,"f":1.06},{"s":"PL","w":5699.5,"f":1.03},{"s":"PL","w":5796.7,"f":1.01},{"s":"PL","w":5895.5,"f":1.01},{"s":"PL","w":5996.0,"f":1.00},{"s":"PL","w":6098.2,"f":1.01},{"s":"PL","w":6202.2,"f":1.03},{"s":"PL","w":6276.0,"f":1.07},{"s":"PL","w":6340.0,"f":1.14},{"s":"PL","w":6393.8,"f":1.25},{"s":"PL","w":6437.2,"f":1.37},{"s":"PL","w":6480.9,"f":1.83},{"s":"PL","w":6513.8,"f":3.09},{"s":"PL","w":6546.9,"f":4.94},{"s":"PL","w":6580.3,"f":3.55},{"s":"PL","w":6613.7,"f":2.39},{"s":"PL","w":6658.6,"f":1.51},{"s":"PL","w":6703.8,"f":1.21},{"s":"PL","w":6760.7,"f":1.03},{"s":"PL","w":6829.6,"f":0.98},{"s":"PL","w":6922.6,"f":0.97},{"s":"PL","w":7016.9,"f":0.99},{"s":"PL","w":7112.4,"f":0.98},{"s":"PL","w":7209.3,"f":0.95},
{"s":"Steep","w":1251.0,"f":0.87},{"s":"Steep","w":1261.6,"f":0.74},{"s":"Steep","w":1272.3,"f":0.68},{"s":"Steep","w":1283.1,"f":0.66},{"s":"Steep","w":1294.0,"f":0.67},{"s":"Steep","w":1305.0,"f":0.68},{"s":"Steep","w":1316.1,"f":0.68},{"s":"Steep","w":1322.8,"f":0.69},{"s":"Steep","w":1331.8,"f":0.73},{"s":"Steep","w":1343.1,"f":0.73},{"s":"Steep","w":1354.5,"f":0.73},{"s":"Steep","w":1366.0,"f":0.77},{"s":"Steep","w":1379.9,"f":0.83},{"s":"Steep","w":1389.2,"f":0.89},{"s":"Steep","w":1398.7,"f":0.97},{"s":"Steep","w":1412.9,"f":0.89},{"s":"Steep","w":1427.3,"f":0.84},{"s":"Steep","w":1441.9,"f":0.82},{"s":"Steep","w":1456.6,"f":0.84},{"s":"Steep","w":1473.9,"f":0.88},{"s":"Steep","w":1491.5,"f":0.93},{"s":"Steep","w":1506.7,"f":1.00},{"s":"Steep","w":1516.9,"f":1.14},{"s":"Steep","w":1527.2,"f":1.34},{"s":"Steep","w":1537.6,"f":1.57},{"s":"Steep","w":1548.0,"f":1.87},{"s":"Steep","w":1558.5,"f":1.63},{"s":"Steep","w":1569.1,"f":1.37},{"s":"Steep","w":1579.7,"f":1.24},{"s":"Steep","w":1595.8,"f":1.20},{"s":"Steep","w":1617.5,"f":1.18},{"s":"Steep","w":1639.6,"f":1.19},{"s":"Steep","w":1661.9,"f":1.16},{"s":"Steep","w":1684.5,"f":1.13},{"s":"Steep","w":1707.5,"f":1.14},{"s":"Steep","w":1730.7,"f":1.17},{"s":"Steep","w":1760.2,"f":1.19},{"s":"Steep","w":1790.2,"f":1.20},{"s":"Steep","w":1820.8,"f":1.23},{"s":"Steep","w":1845.5,"f":1.28},{"s":"Steep","w":1867.5,"f":1.37},{"s":"Steep","w":1883.4,"f":1.53},{"s":"Steep","w":1896.2,"f":1.71},{"s":"Steep","w":1905.8,"f":1.90},{"s":"Steep","w":1918.7,"f":1.63},{"s":"Steep","w":1935.0,"f":1.42},{"s":"Steep","w":1954.7,"f":1.35},{"s":"Steep","w":1981.4,"f":1.33},{"s":"Steep","w":2015.1,"f":1.37},{"s":"Steep","w":2049.5,"f":1.44},{"s":"Steep","w":2084.4,"f":1.47},{"s":"Steep","w":2120.0,"f":1.47},{"s":"Steep","w":2156.1,"f":1.46},{"s":"Steep","w":2192.9,"f":1.44},{"s":"Steep","w":2230.3,"f":1.46},{"s":"Steep","w":2268.3,"f":1.51},{"s":"Steep","w":2307.0,"f":1.59},{"s":"Steep","w":2346.3,"f":1.62},{"s":"Steep","w":2386.3,"f":1.65},{"s":"Steep","w":2427.0,"f":1.67},{"s":"Steep","w":2468.4,"f":1.66},{"s":"Steep","w":2510.4,"f":1.65},{"s":"Steep","w":2553.2,"f":1.64},{"s":"Steep","w":2596.8,"f":1.63},{"s":"Steep","w":2641.0,"f":1.61},{"s":"Steep","w":2686.1,"f":1.65},{"s":"Steep","w":2722.6,"f":1.79},{"s":"Steep","w":2750.4,"f":1.96},{"s":"Steep","w":2773.7,"f":2.11},{"s":"Steep","w":2797.3,"f":2.42},{"s":"Steep","w":2816.3,"f":2.11},{"s":"Steep","w":2840.2,"f":1.90},{"s":"Steep","w":2874.0,"f":1.76},{"s":"Steep","w":2923.0,"f":1.78},{"s":"Steep","w":2972.8,"f":1.70},{"s":"Steep","w":3023.5,"f":1.59},{"s":"Steep","w":3075.1,"f":1.63},{"s":"Steep","w":3127.5,"f":1.71},{"s":"Steep","w":3180.8,"f":1.75},{"s":"Steep","w":3235.0,"f":1.69},{"s":"Steep","w":3290.2,"f":1.66},{"s":"Steep","w":3346.3,"f":1.64},{"s":"Steep","w":3403.3,"f":1.63},{"s":"Steep","w":3461.4,"f":1.59},{"s":"Steep","w":3520.4,"f":1.54},{"s":"Steep","w":3580.4,"f":1.51},{"s":"Steep","w":3641.4,"f":1.47},{"s":"Steep","w":3703.5,"f":1.47},{"s":"Steep","w":3766.7,"f":1.38},{"s":"Steep","w":3830.9,"f":1.32},{"s":"Steep","w":3896.2,"f":1.31},{"s":"Steep","w":3962.6,"f":1.28},{"s":"Steep","w":4030.2,"f":1.24},{"s":"Steep","w":4098.9,"f":1.21},{"s":"Steep","w":4168.8,"f":1.18},{"s":"Steep","w":4239.8,"f":1.18},
{"s":"Steep","w":4297.6,"f":1.32},{"s":"Steep","w":4334.0,"f":1.39},{"s":"Steep","w":4370.8,"f":1.38},{"s":"Steep","w":4422.9,"f":1.30},{"s":"Steep","w":4475.5,"f":1.24},{"s":"Steep","w":4536.5,"f":1.31},{"s":"Steep","w":4598.2,"f":1.31},{"s":"Steep","w":4653.0,"f":1.23},{"s":"Steep","w":4708.4,"f":1.17},{"s":"Steep","w":4756.4,"f":1.19},{"s":"Steep","w":4804.9,"f":1.34},{"s":"Steep","w":4829.3,"f":1.65},{"s":"Steep","w":4853.8,"f":1.90},{"s":"Steep","w":4878.5,"f":1.65},{"s":"Steep","w":4911.6,"f":1.39},{"s":"Steep","w":4945.0,"f":1.34},{"s":"Steep","w":4970.1,"f":1.44},{"s":"Steep","w":4995.4,"f":1.79},{"s":"Steep","w":5020.8,"f":1.29},{"s":"Steep","w":5054.8,"f":1.13},{"s":"Steep","w":5089.1,"f":1.10},{"s":"Steep","w":5132.3,"f":1.15},{"s":"Steep","w":5193.4,"f":1.16},{"s":"Steep","w":5255.3,"f":1.23},{"s":"Steep","w":5326.8,"f":1.29},{"s":"Steep","w":5399.3,"f":1.31},{"s":"Steep","w":5472.9,"f":1.32},{"s":"Steep","w":5528.7,"f":1.31},{"s":"Steep","w":5575.6,"f":1.23},{"s":"Steep","w":5622.9,"f":1.06},{"s":"Steep","w":5699.5,"f":1.03},{"s":"Steep","w":5796.7,"f":1.01},{"s":"Steep","w":5895.5,"f":1.01},{"s":"Steep","w":5996.0,"f":1.00},{"s":"Steep","w":6098.2,"f":1.01},{"s":"Steep","w":6202.2,"f":1.03},{"s":"Steep","w":6276.0,"f":1.07},{"s":"Steep","w":6340.0,"f":1.14},{"s":"Steep","w":6393.8,"f":1.25},{"s":"Steep","w":6437.2,"f":1.37},{"s":"Steep","w":6480.9,"f":1.83},{"s":"Steep","w":6513.8,"f":3.09},{"s":"Steep","w":6546.9,"f":4.94},{"s":"Steep","w":6580.3,"f":3.55},{"s":"Steep","w":6613.7,"f":2.39},{"s":"Steep","w":6658.6,"f":1.51},{"s":"Steep","w":6703.8,"f":1.21},{"s":"Steep","w":6760.7,"f":1.03},{"s":"Steep","w":6829.6,"f":0.98},{"s":"Steep","w":6922.6,"f":0.97},{"s":"Steep","w":7016.9,"f":0.99},{"s":"Steep","w":7112.4,"f":0.98},{"s":"Steep","w":7209.3,"f":0.95}
]
},
"layer":[
{"data":{"name":"lines"},
 "mark":{"type":"rule","strokeDash":[7,4],"color":"#999999","strokeWidth":2},
 "encoding":{"x":{"field":"w","type":"quantitative","scale":{"type":"log","domain":[1251,7209],"nice":false},
   "axis":{"orient":"top","values":[2000,3000,4000,5000,6000,7000],"labels":false,"tickSize":-4,"title":null}}}},
{"data":{"name":"lines"},
 "mark":{"type":"text","angle":270,"align":"right","baseline":"middle","fontSize":18,"font":"DejaVu Sans","fill":"white","stroke":"white","strokeWidth":6},
 "encoding":{"x":{"field":"w","type":"quantitative","scale":{"type":"log","domain":[1251,7209],"nice":false},"axis":null},
   "y":{"field":"ty","type":"quantitative","scale":{"type":"log","domain":[0.6,10],"nice":false},
     "axis":{"orient":"left","values":[0.7,0.8,0.9,2,3,4,5,6,7,8,9],"labels":false,"tickSize":-4,"title":null}},
   "text":{"field":"lab"}}},
{"data":{"name":"lines"},
 "mark":{"type":"text","angle":270,"align":"right","baseline":"middle","fontSize":18,"font":"DejaVu Sans","fill":"#404040"},
 "encoding":{"x":{"field":"w","type":"quantitative","scale":{"type":"log","domain":[1251,7209],"nice":false},"axis":null},
   "y":{"field":"ty","type":"quantitative","scale":{"type":"log","domain":[0.6,10],"nice":false},
     "axis":{"orient":"right","values":[1,10],"labels":false,"tickSize":-7,"title":null}},
   "text":{"field":"lab"}}},
{"data":{"name":"models"},
 "mark":{"type":"line","strokeWidth":2.6,"clip":true},
 "encoding":{"x":{"field":"w","type":"quantitative","scale":{"type":"log","domain":[1251,7209],"nice":false},"axis":null},
   "y":{"field":"f","type":"quantitative","scale":{"type":"log","domain":[0.6,10],"nice":false},
     "axis":{"orient":"right","values":[0.7,0.8,0.9,2,3,4,5,6,7,8,9],"labels":false,"tickSize":-4,"title":null}},
   "color":{"field":"s","type":"nominal","scale":{"domain":["cQSO composite","rQSO composite","MW","Flat","SMC","PL","Steep"],"range":["#008b8b","#b22222","#4d4dff","#4daf4a","#ffbf40","#7e57c2","#4d4d4d"]},
     "legend":{"title":null,"orient":"none","legendX":0,"legendY":-41,"direction":"horizontal","columns":7}},
   "strokeDash":{"field":"s","type":"nominal","scale":{"domain":["cQSO composite","rQSO composite","MW","Flat","SMC","PL","Steep"],"range":[[1,0],[1,0],[14,5,3,5],[2.5,4],[9,4],[9,4],[8,3,2.5,3,2.5,3]]},
     "legend":{"title":null,"orient":"none","legendX":0,"legendY":-41,"direction":"horizontal","columns":7}}}},
{"data":{"name":"comp"},
 "mark":{"type":"line","strokeWidth":2.8,"clip":true},
 "encoding":{"x":{"field":"w","type":"quantitative","scale":{"type":"log","domain":[1251,7209],"nice":false},
     "axis":{"orient":"bottom","values":[2000,3000,4000,5000,6000,7000],"tickSize":-4,"labelPadding":10.4,"labelFontSize":16,"labelBaseline":"top",
       "labelExpr":"datum.value == 2000 ? '2 × 10³' : datum.value == 3000 ? '3 × 10³' : datum.value == 4000 ? '4 × 10³' : datum.value == 6000 ? '6 × 10³' : ''",
       "title":"Rest Wavelength (Å)","titleFontSize":23,"titleBaseline":"alphabetic","titleY":51,"titleX":518,"titleAlign":"center"}},
   "y":{"field":"f","type":"quantitative","scale":{"type":"log","domain":[0.6,10],"nice":false},
     "axis":{"orient":"left","values":[1,10],"tickSize":-7,"labelPadding":13,"labelFontSize":23,"labelOffset":4,
       "labelExpr":"datum.value == 10 ? '10¹' : '10⁰'",
       "title":"λFλ (arbitrary units)","titleFontSize":23,"titleAngle":270,"titleBaseline":"alphabetic","titleX":-57,"titleY":184.5,"titleAlign":"center"}},
   "color":{"field":"s","type":"nominal","scale":{"domain":["cQSO composite","rQSO composite","MW","Flat","SMC","PL","Steep"],"range":["#008b8b","#b22222","#4d4dff","#4daf4a","#ffbf40","#7e57c2","#4d4d4d"]},
     "legend":{"title":null,"orient":"none","legendX":0,"legendY":-41,"direction":"horizontal","columns":7}},
   "strokeDash":{"field":"s","type":"nominal","scale":{"domain":["cQSO composite","rQSO composite","MW","Flat","SMC","PL","Steep"],"range":[[1,0],[1,0],[14,5,3,5],[2.5,4],[9,4],[9,4],[8,3,2.5,3,2.5,3]]},
     "legend":{"title":null,"orient":"none","legendX":0,"legendY":-41,"direction":"horizontal","columns":7}},
   "detail":{"field":"g"}}}
],
"resolve":{"axis":{"x":"independent","y":"independent"}}
}
